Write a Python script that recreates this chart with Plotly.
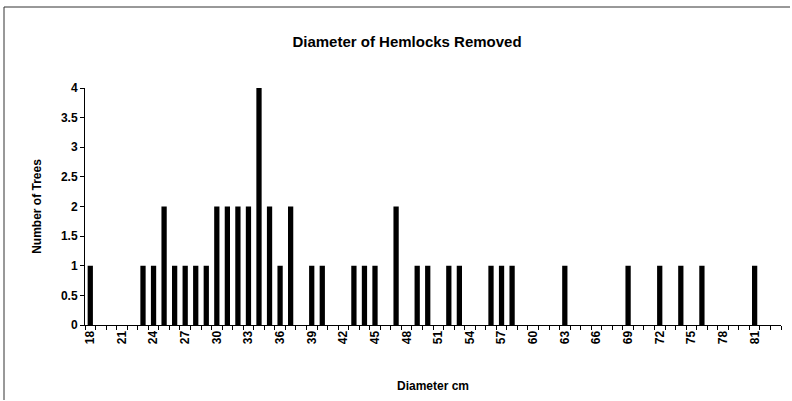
import plotly.graph_objects as go

diameters = [18, 23, 24, 25, 26, 27, 28, 29, 30, 31, 32, 33, 34, 35, 36, 37, 39, 40,
             43, 44, 45, 47, 49, 50, 52, 53, 56, 57, 58, 63, 69, 72, 74, 76, 81]
counts = [1, 1, 1, 2, 1, 1, 1, 1, 2, 2, 2, 2, 4, 2, 1, 2, 1, 1,
          1, 1, 1, 2, 1, 1, 1, 1, 1, 1, 1, 1, 1, 1, 1, 1, 1]
x_tick_labels = list(range(18, 82, 3))
y_tick_values = [0, 0.5, 1, 1.5, 2, 2.5, 3, 3.5, 4]

W, H = 792, 401
L, R, T, B = 85, 11, 88, 76

fig = go.Figure(go.Bar(x=diameters, y=counts, width=0.5,
                       marker=dict(color="black", line=dict(width=0))))

font_bold = "Liberation Sans"

fig.update_layout(
    width=W, height=H,
    margin=dict(l=L, r=R, t=T, b=B, autoexpand=False),
    paper_bgcolor="white", plot_bgcolor="white",
    showlegend=False,
    font=dict(family=font_bold, color="black", size=12),
    title=dict(text="<b>Diameter of Hemlocks Removed</b>", x=407 / W, xanchor="center",
               y=1 - 42 / H, yanchor="middle", font=dict(size=15, family=font_bold)),
)

fig.update_xaxes(
    range=[17.5, 83.5], automargin=False,
    tickmode="array", tickvals=x_tick_labels,
    ticktext=[f"<b>{v}</b>" for v in x_tick_labels],
    tickangle=-90, ticks="", showgrid=False, zeroline=False,
    showline=True, linecolor="black", linewidth=1,
    tickfont=dict(size=12),
    minor=dict(tick0=17.5, dtick=1, ticks="outside", ticklen=4, tickcolor="black", showgrid=False),
    title=dict(text="<b>Diameter cm</b>", font=dict(size=12), standoff=38),
)
fig.update_yaxes(
    range=[0, 4], automargin=False, tickmode="array", tickvals=y_tick_values,
    ticktext=[f"<b>{v:g}</b>" for v in y_tick_values],
    ticks="outside", ticklen=4, tickcolor="black", showgrid=False, zeroline=False,
    showline=True, linecolor="black", linewidth=1,
    tickfont=dict(size=12),
    title=dict(text="<b>Number of Trees</b>", font=dict(size=12), standoff=16),
)

# outer chart border (top and left edges visible)
fig.add_shape(type="line", xref="paper", yref="paper",
              x0=(4 - L) / (W - L - R), x1=(790 - L) / (W - L - R),
              y0=(H - 7 - B) / (H - T - B), y1=(H - 7 - B) / (H - T - B),
              line=dict(color="#333", width=1))
fig.add_shape(type="line", xref="paper", yref="paper",
              x0=(4 - L) / (W - L - R), x1=(4 - L) / (W - L - R),
              y0=(H - 7 - B) / (H - T - B), y1=(H - 400 - B) / (H - T - B),
              line=dict(color="#333", width=1))

fig.write_html("out.html", config={"displayModeBar": False},
               post_script="document.body.style.margin='0px';")
